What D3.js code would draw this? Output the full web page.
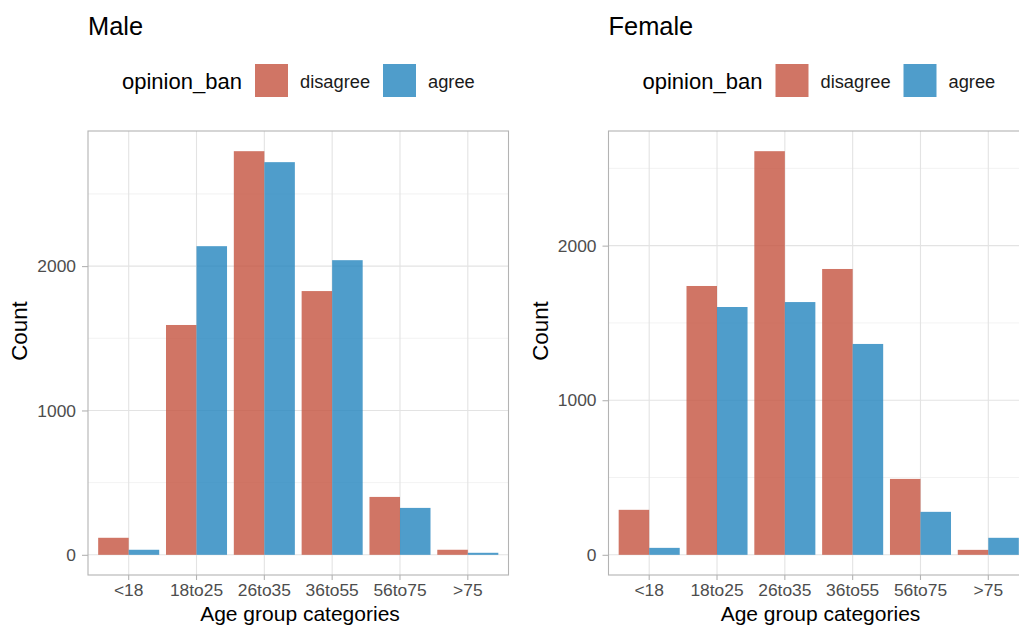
<!DOCTYPE html>
<html>
<head>
<meta charset="utf-8">
<script src="https://cdn.jsdelivr.net/npm/d3@7"></script>
<style>
  html, body { margin: 0; padding: 0; background: #ffffff; overflow: hidden; }
  svg { display: block; font-family: "Liberation Sans", Arial, Helvetica, sans-serif; }
</style>
</head>
<body>
<svg id="chart" width="1019" height="626"></svg>
<script>
// Age groups on the x axis
const ageGroups = ["<18", "18to25", "26to35", "36to55", "56to75", ">75"];
// Opinion levels (legend order)
const opinions = ["disagree", "agree"];
// Counts per age group, male respondents
const maleDisagree = [118, 1592, 2796, 1827, 401, 35];
const maleAgree    = [35, 2138, 2720, 2041, 325, 14];
// Counts per age group, female respondents
const femaleDisagree = [291, 1739, 2611, 1849, 491, 32];
const femaleAgree    = [45, 1603, 1635, 1364, 278, 110];
// Y axis ticks
const yTicks = [0, 1000, 2000];
const yMinorTicks = [500, 1500, 2500];

const fillColors = { disagree: "#c4523f", agree: "#2384be" };
const barOpacity = 0.8;
const tickFont = 17.4;

const svg = d3.select("#chart");

function panel(opts) {
  const { title, left, right, top, bottom, disagree, agree } = opts;
  const g = svg.append("g");
  const maxVal = d3.max(disagree.concat(agree));
  const pad = maxVal * 0.05;

  const x = d3.scaleBand().domain(ageGroups).range([left, right])
    .paddingInner(0).paddingOuter(0.1);
  const inner = d3.scaleBand().domain(opinions)
    .range([-x.bandwidth() * 0.45, x.bandwidth() * 0.45]).padding(0);
  const y = d3.scaleLinear().domain([-pad, maxVal + pad]).range([bottom, top]);

  // grid
  g.append("g").selectAll("line").data(yMinorTicks).join("line")
    .attr("x1", left).attr("x2", right)
    .attr("y1", d => y(d)).attr("y2", d => y(d))
    .attr("stroke", "#ededed").attr("stroke-width", 0.7);
  g.append("g").selectAll("line").data(yTicks).join("line")
    .attr("x1", left).attr("x2", right)
    .attr("y1", d => y(d)).attr("y2", d => y(d))
    .attr("stroke", "#e3e3e3").attr("stroke-width", 1.1);
  g.append("g").selectAll("line").data(ageGroups).join("line")
    .attr("x1", d => x(d) + x.bandwidth() / 2).attr("x2", d => x(d) + x.bandwidth() / 2)
    .attr("y1", top).attr("y2", bottom)
    .attr("stroke", "#e3e3e3").attr("stroke-width", 1.1);

  // bars
  const rows = [];
  ageGroups.forEach((a, i) => {
    rows.push({ age: a, op: "disagree", v: disagree[i] });
    rows.push({ age: a, op: "agree", v: agree[i] });
  });
  g.append("g").selectAll("rect").data(rows).join("rect")
    .attr("x", d => x(d.age) + x.bandwidth() / 2 + inner(d.op))
    .attr("width", inner.bandwidth())
    .attr("y", d => y(d.v))
    .attr("height", d => y(0) - y(d.v))
    .attr("fill", d => fillColors[d.op])
    .attr("fill-opacity", barOpacity);

  // panel border
  g.append("rect").attr("x", left).attr("y", top)
    .attr("width", right - left).attr("height", bottom - top)
    .attr("fill", "none").attr("stroke", "#b3b3b3").attr("stroke-width", 1.1);

  // y axis
  const yAxis = g.append("g").attr("transform", `translate(${left},0)`)
    .call(d3.axisLeft(y).tickValues(yTicks).tickSize(6).tickPadding(6).tickFormat(d3.format("d")));
  yAxis.select(".domain").remove();
  yAxis.selectAll(".tick line").attr("stroke", "#b3b3b3").attr("stroke-width", 1.1);
  yAxis.selectAll(".tick text").attr("fill", "#4d4d4d").attr("font-size", tickFont)
    .attr("font-family", "Liberation Sans, Arial, sans-serif");

  // x axis
  const xAxis = g.append("g").attr("transform", `translate(0,${bottom})`)
    .call(d3.axisBottom(x).tickSize(5).tickPadding(4));
  xAxis.select(".domain").remove();
  xAxis.selectAll(".tick line").attr("stroke", "#b3b3b3").attr("stroke-width", 1.1);
  xAxis.selectAll(".tick text").attr("fill", "#4d4d4d").attr("font-size", tickFont)
    .attr("font-family", "Liberation Sans, Arial, sans-serif");

  // axis titles
  g.append("text").attr("x", left + 212).attr("y", 621)
    .attr("text-anchor", "middle").attr("font-size", 21).attr("fill", "#000")
    .text("Age group categories");
  g.append("text")
    .attr("transform", `translate(${left - 61},331) rotate(-90)`)
    .attr("text-anchor", "middle").attr("font-size", 22.3).attr("fill", "#000")
    .text("Count");

  // title
  g.append("text").attr("x", left).attr("y", 35)
    .attr("font-size", 25.4).attr("fill", "#000").text(title);

  // legend
  const lx = left + 34;
  g.append("text").attr("x", lx).attr("y", 89)
    .attr("font-size", 22).attr("fill", "#000").text("opinion_ban");
  const legendItems = [
    { op: "disagree", sx: lx + 133, tx: lx + 178 },
    { op: "agree", sx: lx + 261, tx: lx + 306 }
  ];
  legendItems.forEach(it => {
    g.append("rect").attr("x", it.sx).attr("y", 64).attr("width", 33).attr("height", 33)
      .attr("fill", fillColors[it.op]).attr("fill-opacity", barOpacity);
    g.append("text").attr("x", it.tx).attr("y", 87.5)
      .attr("font-size", 18.3).attr("fill", "#1a1a1a").text(it.op);
  });
}

panel({ title: "Male", left: 88, right: 508.5, top: 131, bottom: 575,
        disagree: maleDisagree, agree: maleAgree });
panel({ title: "Female", left: 608.5, right: 1029, top: 131, bottom: 575,
        disagree: femaleDisagree, agree: femaleAgree });
</script>
</body>
</html>
